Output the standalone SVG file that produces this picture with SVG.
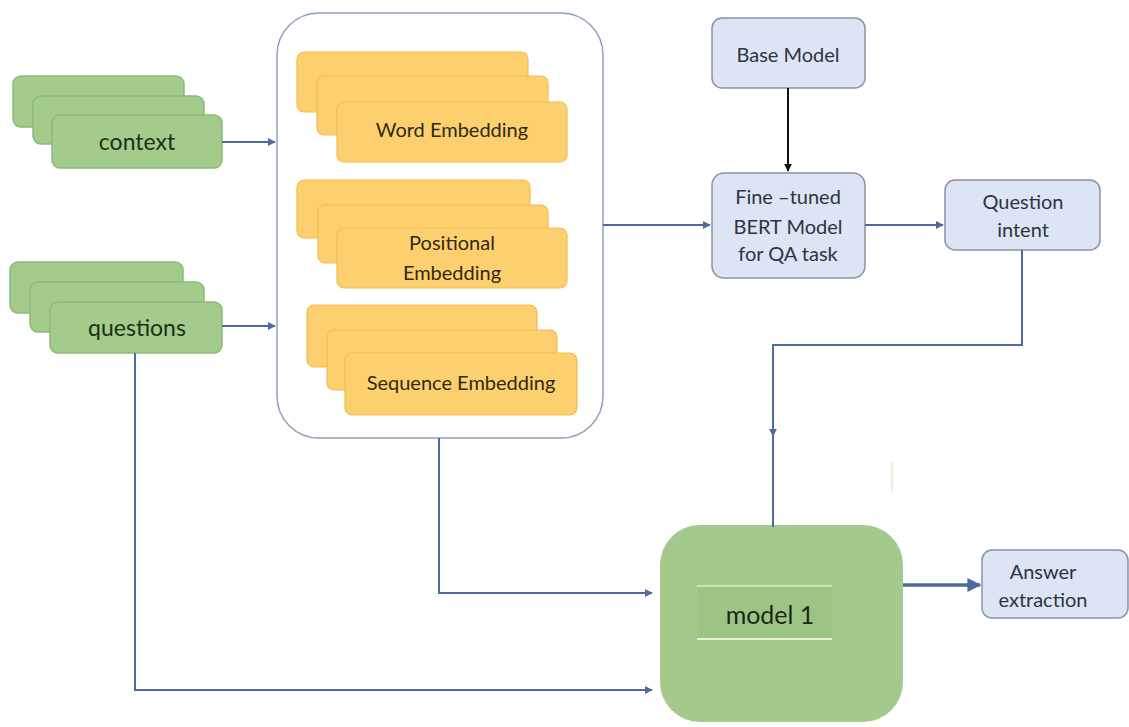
<svg xmlns="http://www.w3.org/2000/svg" width="1129" height="727" viewBox="0 0 1129 727">
<style>
.g{fill:#a2cb8c;stroke:#8cbb78;stroke-width:1.5}
.o{fill:#fcd06f;stroke:#f0bd55;stroke-width:1.2}
.b{fill:#dde4f3;stroke:#8a93a4;stroke-width:1.5}
.t{font-family:Lato,"Open Sans","Liberation Sans",sans-serif;text-anchor:middle}
.tg{fill:#1b3015;font-size:23px}
.to{fill:#33290f;font-size:20px}
.tb{fill:#2e3441;font-size:20px}
.c{fill:none;stroke:#4f6aa3;stroke-width:2}
</style>
<defs>
<marker id="ah" viewBox="0 0 10 10" refX="9" refY="5" markerWidth="4" markerHeight="4" orient="auto"><path d="M0,0 L10,5 L0,10 z" fill="#4f6aa3"/></marker>
<marker id="ak" viewBox="0 0 10 10" refX="9" refY="5" markerWidth="4" markerHeight="4" orient="auto"><path d="M0,0 L10,5 L0,10 z" fill="#111"/></marker>
</defs>
<rect width="1129" height="727" fill="#fff"/>

<g id="context">
<rect class="g" x="13" y="76" width="171" height="51" rx="8"/>
<rect class="g" x="33" y="96" width="171" height="48" rx="8"/>
<rect class="g" x="52" y="115" width="170" height="53" rx="8"/>
<text class="t tg" x="137" y="150">context</text>
</g>

<g id="questions">
<rect class="g" x="10" y="262" width="173" height="51" rx="8"/>
<rect class="g" x="30" y="282" width="174" height="50" rx="8"/>
<rect class="g" x="50" y="302" width="172" height="51" rx="8"/>
<text class="t tg" x="137" y="336">questions</text>
</g>

<g id="embeddings">
<rect x="277" y="13" width="326" height="425" rx="42" fill="#fff" stroke="#8ea0bf" stroke-width="1.5"/>
<g id="word-embedding">
<rect class="o" x="297" y="52" width="231" height="60" rx="7"/>
<rect class="o" x="317" y="76" width="231" height="59" rx="7"/>
<rect class="o" x="337" y="102" width="230" height="60" rx="7"/>
<text class="t to" x="452" y="137">Word Embedding</text>
</g>
<g id="positional-embedding">
<rect class="o" x="297" y="180" width="233" height="58" rx="7"/>
<rect class="o" x="318" y="205" width="230" height="58" rx="7"/>
<rect class="o" x="337" y="228" width="230" height="60" rx="7"/>
<text class="t to" x="452" y="250">Positional</text>
<text class="t to" x="452" y="280">Embedding</text>
</g>
<g id="sequence-embedding">
<rect class="o" x="307" y="305" width="230" height="62" rx="7"/>
<rect class="o" x="327" y="330" width="230" height="60" rx="7"/>
<rect class="o" x="345" y="353" width="232" height="62" rx="7"/>
<text class="t to" x="461" y="390">Sequence Embedding</text>
</g>
</g>

<g id="base-model">
<rect class="b" x="712" y="18" width="153" height="70" rx="10"/>
<text class="t tb" x="788" y="62">Base Model</text>
</g>

<g id="fine-tuned">
<rect class="b" x="712" y="173" width="153" height="105" rx="12"/>
<text class="t tb" x="788" y="204">Fine –tuned</text>
<text class="t tb" x="788" y="234">BERT Model</text>
<text class="t tb" x="788" y="261">for QA task</text>
</g>

<g id="question-intent">
<rect class="b" x="945" y="180" width="155" height="70" rx="10"/>
<text class="t tb" x="1023" y="209">Question</text>
<text class="t tb" x="1023" y="237">intent</text>
</g>

<g id="model1">
<rect x="660" y="525" width="243" height="197" rx="40" fill="#a3c98c"/>
<rect x="697" y="586" width="135" height="54" fill="#9cc585"/>
<line x1="697" y1="586" x2="832" y2="586" stroke="#d6ebc9" stroke-width="1.5"/>
<line x1="697" y1="639" x2="832" y2="639" stroke="#e6f2de" stroke-width="2"/>
<text class="t" x="770" y="624" font-size="25" fill="#1c2816">model 1</text>
</g>

<g id="answer-extraction">
<rect class="b" x="982" y="550" width="146" height="68" rx="10"/>
<text class="t tb" x="1043" y="579">Answer</text>
<text class="t tb" x="1043" y="607">extraction</text>
</g>

<g id="connectors">
<line class="c" x1="222" y1="142" x2="275" y2="142" marker-end="url(#ah)"/>
<line class="c" x1="222" y1="326" x2="275" y2="326" marker-end="url(#ah)"/>
<line class="c" x1="603" y1="225" x2="710" y2="225" marker-end="url(#ah)"/>
<line x1="788" y1="88" x2="788" y2="171" stroke="#111" stroke-width="2" marker-end="url(#ak)"/>
<line class="c" x1="865" y1="225" x2="943" y2="225" marker-end="url(#ah)"/>
<polyline class="c" points="1022,250 1022,345 773,345 773,436" marker-end="url(#ah)"/>
<line class="c" x1="773" y1="430" x2="773" y2="527"/>
<polyline class="c" points="439,438 439,593 652,593" marker-end="url(#ah)"/>
<polyline class="c" points="135,353 135,690 652,690" marker-end="url(#ah)"/>
<line x1="903" y1="585" x2="980" y2="585" stroke="#4f6aa3" stroke-width="3.5" marker-end="url(#ah)"/>
<line x1="892" y1="462" x2="892" y2="492" stroke="#e6e8c8" stroke-width="1.5"/>
</g>
</svg>
